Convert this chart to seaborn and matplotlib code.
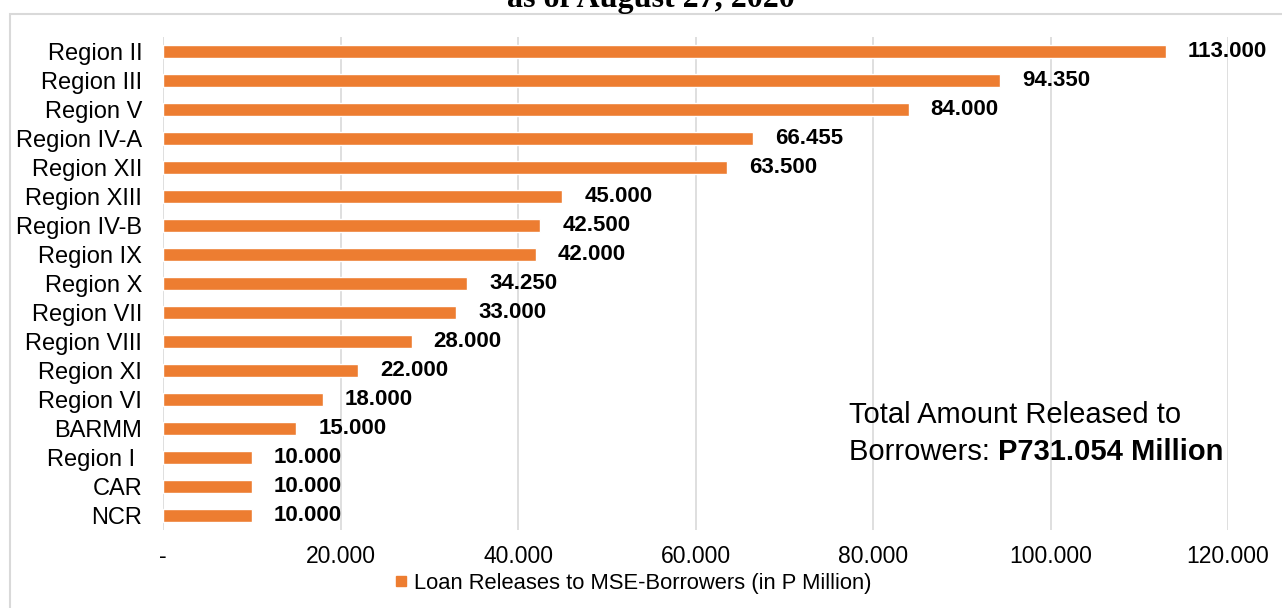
import matplotlib
matplotlib.use("Agg")
import matplotlib.pyplot as plt
import seaborn as sns
import pandas as pd
from matplotlib.patches import Rectangle
from matplotlib.lines import Line2D

regions = ["Region II", "Region III", "Region V", "Region IV-A", "Region XII",
           "Region XIII", "Region IV-B", "Region IX", "Region X", "Region VII",
           "Region VIII", "Region XI", "Region VI", "BARMM", "Region I ", "CAR", "NCR"]
values = [113.000, 94.350, 84.000, 66.455, 63.500, 45.000, 42.500, 42.000,
          34.250, 33.000, 28.000, 22.000, 18.000, 15.000, 10.000, 10.000, 10.000]
xticks = [0, 20, 40, 60, 80, 100, 120]
xticklabels = ["-", "20.000", "40.000", "60.000", "80.000", "100.000", "120.000"]
series_name = "Loan Releases to MSE-Borrowers (in P Million)"
title = "as of August 27, 2020"
total_line1 = "Total Amount Released to"
total_line2a = "Borrowers: "
total_line2b = "P731.054 Million"

sns.set_theme(style="white")
plt.rcParams['font.family'] = ['Liberation Sans', 'DejaVu Sans']
plt.rcParams['text.color'] = 'black'
plt.rcParams['xtick.color'] = 'black'
plt.rcParams['ytick.color'] = 'black'

df = pd.DataFrame({"region": regions, "value": values})
color = "#ED7D31"

fig = plt.figure(figsize=(12.82, 6.08), dpi=100)
W, H = 1282, 608
ax = fig.add_axes([163 / W, 1 - 530 / H, (1228 - 163) / W, (530 - 37) / H])

sns.barplot(data=df, y="region", x="value", orient="h", color=color,
            saturation=1, width=0.45, ax=ax, zorder=3)

ax.set_xlim(0, 120)
ax.set_ylim(len(regions) - 0.5, -0.5)
ax.set_xticks(xticks)
ax.set_xticklabels(xticklabels, fontsize=16.5)
ax.tick_params(axis='y', labelsize=17, length=0, pad=15)
ax.tick_params(axis='x', length=0, pad=11)
for lbl in ax.get_yticklabels():
    lbl.set_verticalalignment("center_baseline")
ax.grid(axis='x', color="#d9d9d9", linewidth=1.2, zorder=0)
ax.grid(axis='y', visible=False)
for s in ax.spines.values():
    s.set_visible(False)
ax.set_xlabel("")
ax.set_ylabel("")

for i, v in enumerate(values):
    ax.annotate(f"{v:.3f}", xy=(v, i), xytext=(16, 0), textcoords="offset points",
                va="center", ha="left", fontsize=16, fontweight="bold", color="black")

# outer frame
fig.patches.append(Rectangle((10 / W, -0.01), 1 - 10 / W + 0.01, 1 - 14 / H + 0.01,
                             transform=fig.transFigure, fill=False,
                             edgecolor="#d9d9d9", linewidth=1.5))

# title (cut off at top, as in the reference)
fig.text(651 / W, 1 - 7 / H, title, ha="center", va="baseline",
         fontsize=23, fontweight="bold", family=["Liberation Serif", "DejaVu Serif"])

# total annotation
t1 = fig.text(849 / W, 1 - 423 / H, total_line1, ha="left", va="baseline", fontsize=21)
t2 = fig.text(849 / W, 1 - 460 / H, total_line2a, ha="left", va="baseline", fontsize=21)
ax.annotate(total_line2b, xy=(1, 0), xycoords=t2, va="bottom", ha="left",
            fontsize=21, fontweight="bold")

# legend
handle = Line2D([], [], marker="s", linestyle="none", markersize=7.5,
                markerfacecolor=color, markeredgecolor=color)
fig.legend([handle], [series_name], loc="center", bbox_to_anchor=(633 / W, 1 - 583 / H),
           frameon=False, fontsize=15.8, handlelength=0.6, handletextpad=0.3,
           borderaxespad=0, borderpad=0)

fig.savefig("out.png", dpi=100)
